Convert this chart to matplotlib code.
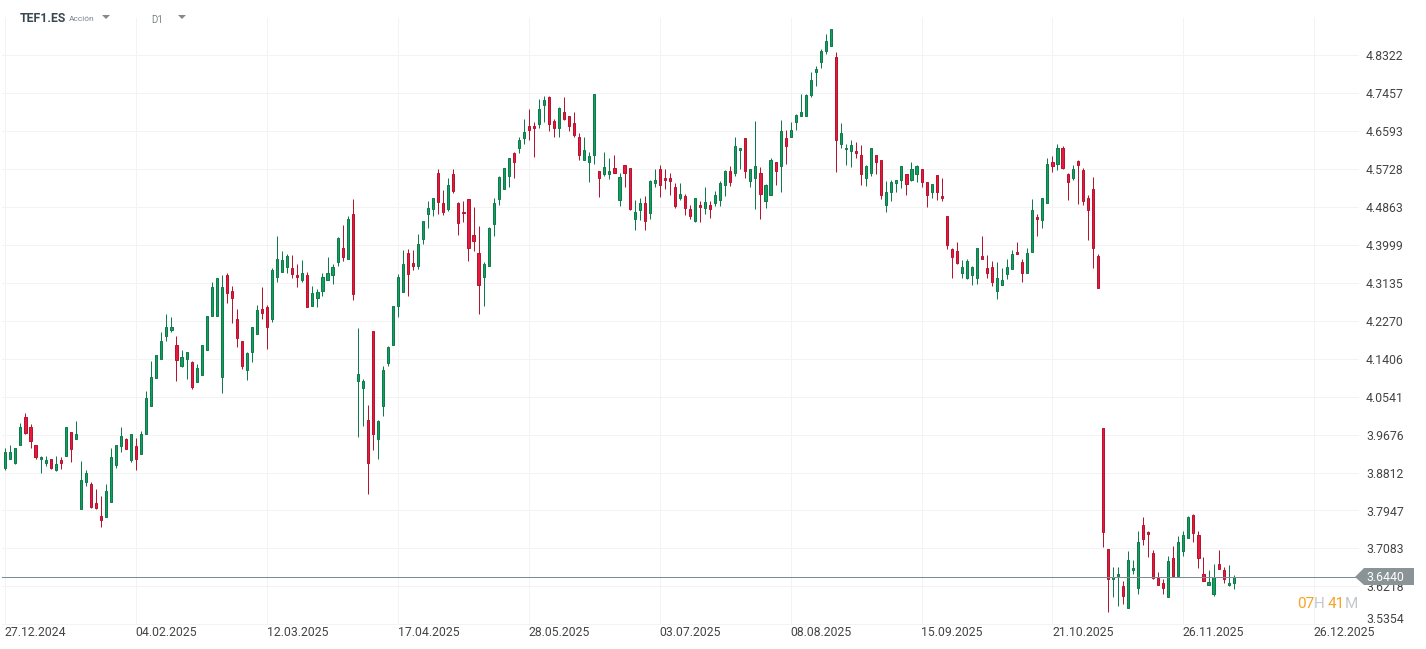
#!/usr/bin/env python3
import matplotlib
matplotlib.use("Agg")
import matplotlib.pyplot as plt
import numpy as np
from matplotlib.patches import Polygon

plt.rcParams['font.family'] = ['Roboto', 'DejaVu Sans']

# Daily candles
opens = [
    3.892, 3.911, 3.904, 3.945, 4.007, 3.984, 3.943, 3.911, 3.904, 3.911,
    3.888, 3.909, 3.919, 3.973, 3.958, 3.799, 3.860, 3.856, 3.811, 3.781,
    3.779, 3.815, 3.899, 3.941, 3.957, 3.910, 3.941, 3.923, 3.968, 4.032,
    4.096, 4.139, 4.192, 4.207, 4.171, 4.125, 4.139, 4.132, 4.087, 4.103,
    4.160, 4.239, 4.239, 4.100, 4.331, 4.296, 4.230, 4.180, 4.114, 4.157,
    4.198, 4.253, 4.258, 4.230, 4.326, 4.338, 4.349, 4.347, 4.331, 4.319,
    4.331, 4.260, 4.278, 4.294, 4.319, 4.331, 4.360, 4.392, 4.369, 4.470,
    4.089, 4.075, 4.002, 4.203, 3.957, 4.032, 4.130, 4.171, 4.260, 4.292,
    4.381, 4.358, 4.351, 4.413, 4.470, 4.481, 4.563, 4.495, 4.481, 4.561,
    4.495, 4.476, 4.504, 4.422, 4.381, 4.328, 4.351, 4.447, 4.504, 4.527,
    4.556, 4.609, 4.620, 4.643, 4.670, 4.670, 4.675, 4.718, 4.736, 4.682,
    4.666, 4.704, 4.693, 4.677, 4.645, 4.593, 4.590, 4.604, 4.568, 4.561,
    4.561, 4.575, 4.502, 4.581, 4.575, 4.460, 4.479, 4.495, 4.472, 4.540,
    4.572, 4.552, 4.552, 4.533, 4.508, 4.511, 4.481, 4.455, 4.490, 4.483,
    4.492, 4.495, 4.502, 4.536, 4.568, 4.563, 4.616, 4.643, 4.545, 4.552,
    4.565, 4.499, 4.513, 4.590, 4.579, 4.643, 4.647, 4.679, 4.693, 4.693,
    4.741, 4.793, 4.816, 4.841, 4.853, 4.828, 4.629, 4.618, 4.613, 4.613,
    4.606, 4.552, 4.565, 4.604, 4.593, 4.490, 4.520, 4.540, 4.547, 4.561,
    4.547, 4.561, 4.572, 4.543, 4.520, 4.559, 4.511, 4.465, 4.390, 4.385,
    4.335, 4.325, 4.331, 4.324, 4.374, 4.347, 4.349, 4.294, 4.308, 4.333,
    4.344, 4.383, 4.360, 4.335, 4.383, 4.463, 4.456, 4.495, 4.588, 4.584,
    4.622, 4.561, 4.552, 4.591, 4.570, 4.508, 4.527, 4.374, 3.982, 3.706,
    3.638, 3.645, 3.622, 3.572, 3.658, 3.619, 3.761, 3.745, 3.697, 3.640,
    3.629, 3.597, 3.686, 3.645, 3.702, 3.733, 3.784, 3.738, 3.649, 3.626,
    3.604, 3.672, 3.658, 3.624, 3.629,
]
closes = [
    3.929, 3.929, 3.936, 3.986, 3.972, 3.954, 3.917, 3.916, 3.909, 3.892,
    3.900, 3.904, 3.984, 3.935, 3.970, 3.865, 3.881, 3.803, 3.801, 3.774,
    3.840, 3.916, 3.945, 3.964, 3.935, 3.970, 3.913, 3.970, 4.050, 4.100,
    4.148, 4.182, 4.212, 4.214, 4.137, 4.144, 4.155, 4.077, 4.119, 4.171,
    4.237, 4.303, 4.324, 4.303, 4.290, 4.280, 4.187, 4.123, 4.153, 4.212,
    4.251, 4.244, 4.214, 4.342, 4.369, 4.365, 4.374, 4.333, 4.326, 4.335,
    4.258, 4.290, 4.292, 4.326, 4.335, 4.349, 4.415, 4.372, 4.458, 4.287,
    4.105, 4.089, 3.902, 3.970, 3.998, 4.114, 4.167, 4.260, 4.328, 4.356,
    4.333, 4.353, 4.401, 4.454, 4.483, 4.506, 4.497, 4.474, 4.536, 4.524,
    4.451, 4.472, 4.394, 4.410, 4.308, 4.356, 4.438, 4.495, 4.554, 4.575,
    4.597, 4.588, 4.638, 4.657, 4.663, 4.666, 4.709, 4.730, 4.675, 4.666,
    4.711, 4.686, 4.670, 4.651, 4.606, 4.616, 4.602, 4.745, 4.552, 4.577,
    4.568, 4.563, 4.554, 4.565, 4.481, 4.476, 4.495, 4.454, 4.545, 4.549,
    4.536, 4.547, 4.545, 4.488, 4.515, 4.483, 4.465, 4.506, 4.486, 4.497,
    4.481, 4.513, 4.540, 4.568, 4.543, 4.625, 4.620, 4.568, 4.574, 4.579,
    4.515, 4.536, 4.593, 4.568, 4.659, 4.625, 4.663, 4.695, 4.704, 4.741,
    4.777, 4.800, 4.841, 4.864, 4.891, 4.638, 4.654, 4.622, 4.627, 4.609,
    4.561, 4.579, 4.620, 4.588, 4.513, 4.520, 4.543, 4.549, 4.579, 4.538,
    4.572, 4.579, 4.543, 4.513, 4.538, 4.520, 4.506, 4.399, 4.372, 4.358,
    4.349, 4.363, 4.349, 4.394, 4.369, 4.335, 4.315, 4.324, 4.321, 4.349,
    4.379, 4.379, 4.335, 4.381, 4.479, 4.458, 4.508, 4.584, 4.579, 4.622,
    4.575, 4.543, 4.572, 4.581, 4.499, 4.479, 4.392, 4.301, 3.745, 3.638,
    3.642, 3.649, 3.599, 3.681, 3.663, 3.724, 3.729, 3.740, 3.640, 3.624,
    3.619, 3.679, 3.645, 3.722, 3.738, 3.779, 3.743, 3.686, 3.635, 3.631,
    3.642, 3.661, 3.638, 3.629, 3.644,
]
highs = [
    3.937, 3.945, 3.936, 3.993, 4.016, 3.991, 3.945, 3.918, 3.920, 3.911,
    3.919, 3.916, 3.984, 3.973, 3.998, 3.907, 3.888, 3.859, 3.843, 3.827,
    3.856, 3.936, 3.945, 3.986, 3.959, 3.970, 3.961, 3.975, 4.068, 4.135,
    4.148, 4.201, 4.242, 4.235, 4.192, 4.160, 4.155, 4.135, 4.128, 4.173,
    4.237, 4.315, 4.324, 4.331, 4.337, 4.306, 4.253, 4.180, 4.157, 4.212,
    4.262, 4.303, 4.262, 4.347, 4.420, 4.385, 4.379, 4.376, 4.356, 4.365,
    4.338, 4.306, 4.299, 4.335, 4.372, 4.356, 4.417, 4.445, 4.467, 4.504,
    4.210, 4.094, 4.034, 4.203, 4.000, 4.123, 4.169, 4.260, 4.333, 4.388,
    4.390, 4.388, 4.424, 4.454, 4.499, 4.508, 4.572, 4.525, 4.552, 4.572,
    4.497, 4.499, 4.504, 4.486, 4.442, 4.362, 4.440, 4.508, 4.556, 4.575,
    4.597, 4.611, 4.645, 4.688, 4.709, 4.679, 4.732, 4.739, 4.739, 4.688,
    4.714, 4.736, 4.693, 4.702, 4.654, 4.645, 4.611, 4.745, 4.568, 4.611,
    4.597, 4.606, 4.563, 4.581, 4.575, 4.502, 4.506, 4.511, 4.547, 4.572,
    4.581, 4.572, 4.565, 4.540, 4.540, 4.517, 4.492, 4.508, 4.499, 4.531,
    4.499, 4.522, 4.545, 4.570, 4.579, 4.647, 4.620, 4.643, 4.574, 4.682,
    4.577, 4.538, 4.597, 4.590, 4.684, 4.661, 4.679, 4.698, 4.745, 4.743,
    4.793, 4.807, 4.846, 4.880, 4.891, 4.839, 4.677, 4.629, 4.638, 4.634,
    4.627, 4.581, 4.620, 4.604, 4.593, 4.545, 4.549, 4.549, 4.579, 4.561,
    4.588, 4.581, 4.572, 4.543, 4.538, 4.559, 4.552, 4.465, 4.392, 4.406,
    4.365, 4.367, 4.351, 4.394, 4.420, 4.376, 4.363, 4.360, 4.347, 4.367,
    4.388, 4.406, 4.367, 4.394, 4.504, 4.470, 4.508, 4.597, 4.602, 4.629,
    4.625, 4.565, 4.581, 4.593, 4.575, 4.513, 4.554, 4.379, 3.982, 3.706,
    3.667, 3.667, 3.635, 3.702, 3.681, 3.749, 3.779, 3.749, 3.704, 3.654,
    3.638, 3.690, 3.713, 3.736, 3.749, 3.781, 3.786, 3.749, 3.688, 3.658,
    3.672, 3.704, 3.667, 3.670, 3.647,
]
lows = [
    3.888, 3.911, 3.901, 3.945, 3.970, 3.938, 3.913, 3.881, 3.897, 3.890,
    3.885, 3.890, 3.919, 3.906, 3.958, 3.799, 3.851, 3.801, 3.799, 3.758,
    3.779, 3.815, 3.892, 3.929, 3.935, 3.906, 3.888, 3.923, 3.968, 4.032,
    4.096, 4.139, 4.182, 4.202, 4.090, 4.122, 4.095, 4.072, 4.087, 4.103,
    4.160, 4.239, 4.239, 4.063, 4.268, 4.223, 4.168, 4.118, 4.091, 4.134,
    4.198, 4.230, 4.163, 4.225, 4.316, 4.338, 4.335, 4.325, 4.305, 4.316,
    4.258, 4.260, 4.259, 4.284, 4.319, 4.312, 4.353, 4.364, 4.369, 4.275,
    3.963, 3.988, 3.833, 3.933, 3.913, 4.011, 4.125, 4.171, 4.236, 4.292,
    4.284, 4.342, 4.344, 4.401, 4.439, 4.467, 4.471, 4.469, 4.478, 4.519,
    4.423, 4.453, 4.364, 4.387, 4.243, 4.261, 4.351, 4.421, 4.492, 4.527,
    4.533, 4.553, 4.610, 4.631, 4.638, 4.601, 4.667, 4.679, 4.660, 4.647,
    4.647, 4.684, 4.660, 4.647, 4.594, 4.593, 4.544, 4.584, 4.510, 4.556,
    4.551, 4.563, 4.489, 4.533, 4.479, 4.433, 4.457, 4.435, 4.460, 4.533,
    4.510, 4.528, 4.514, 4.485, 4.503, 4.469, 4.460, 4.453, 4.453, 4.471,
    4.462, 4.488, 4.489, 4.512, 4.535, 4.556, 4.572, 4.553, 4.533, 4.482,
    4.460, 4.485, 4.513, 4.537, 4.521, 4.585, 4.647, 4.663, 4.693, 4.693,
    4.736, 4.763, 4.804, 4.834, 4.853, 4.567, 4.622, 4.583, 4.578, 4.597,
    4.537, 4.535, 4.558, 4.562, 4.505, 4.476, 4.501, 4.521, 4.530, 4.514,
    4.545, 4.544, 4.533, 4.487, 4.508, 4.503, 4.499, 4.391, 4.325, 4.356,
    4.325, 4.323, 4.309, 4.312, 4.369, 4.325, 4.307, 4.277, 4.308, 4.323,
    4.344, 4.379, 4.316, 4.335, 4.383, 4.421, 4.439, 4.495, 4.567, 4.570,
    4.572, 4.503, 4.547, 4.494, 4.490, 4.412, 4.348, 4.301, 3.712, 3.564,
    3.598, 3.578, 3.582, 3.572, 3.649, 3.604, 3.715, 3.688, 3.638, 3.624,
    3.604, 3.597, 3.645, 3.645, 3.692, 3.733, 3.724, 3.663, 3.635, 3.626,
    3.599, 3.661, 3.629, 3.622, 3.615,
]

price_ticks = [4.8322, 4.7457, 4.6593, 4.5728, 4.4863, 4.3999, 4.3135, 4.2270,
               4.1406, 4.0541, 3.9676, 3.8812, 3.7947, 3.7083, 3.6218, 3.5354]
date_ticks = [0, 26, 52, 78, 104, 130, 156, 182, 208, 234, 260]
date_labels = ['27.12.2024', '04.02.2025', '12.03.2025', '17.04.2025', '28.05.2025',
               '03.07.2025', '08.08.2025', '15.09.2025', '21.10.2025', '26.11.2025',
               '26.12.2025']
last_price = 3.6440

GREEN = '#12a05f'
GREEN_EDGE = '#0f7a4c'
RED = '#e8193c'
RED_EDGE = '#b5152f'
GRID = '#f3f3f3'
ONE_PX = 0.72
LABEL_SIZE = 8.85

W, H = 1426, 649
fig = plt.figure(figsize=(W / 100, H / 100), dpi=100)
ax = fig.add_axes([0, 0, 1, 1])
ax.set_xlim(-1.0586, 282.2)
ax.set_ylim(3.4790, 4.9582)
ax.axis('off')

# pixel helpers for the furniture around the plot
def fx(x): return x / W
def fy(y): return 1 - y / H

# grid
x_left = fx(2)
x_right = fx(1358)
for p in price_ticks:
    ax.axhline(p, xmin=x_left, xmax=x_right, color=GRID, lw=ONE_PX, zorder=1, snap=True)
for d in date_ticks:
    ax.axvline(d, ymin=fy(624), ymax=fy(18), color=GRID, lw=ONE_PX, zorder=1, snap=True)

# candles
idx = np.arange(len(opens))
o, c, h, l = map(np.array, (opens, closes, highs, lows))
up = c >= o
for mask, fill, edge in ((up, GREEN, GREEN_EDGE), (~up, RED, RED_EDGE)):
    ax.vlines(idx[mask], l[mask], h[mask], color=edge, lw=ONE_PX, zorder=3, snap=True)
    ax.bar(idx[mask], np.abs(c - o)[mask], bottom=np.minimum(o, c)[mask], width=0.42,
           color=fill, edgecolor=edge, linewidth=ONE_PX, zorder=4)

# last price line and tag
ax.axhline(last_price, xmin=x_left, xmax=fx(1356), color='#7d8b92', lw=ONE_PX, zorder=5, snap=True)

# axis labels
for p in price_ticks[:-1]:
    ax.annotate(f'{p:.4f}', xy=(fx(1366), p), xycoords=ax.get_yaxis_transform(), xytext=(0, -1.1),
                textcoords='offset points', ha='left', va='center',
                fontsize=LABEL_SIZE, color='#444444', zorder=6)
fig.text(fx(1366), fy(619.5), f'{price_ticks[-1]:.4f}', ha='left', va='center',
         fontsize=LABEL_SIZE, color='#444444')
for d, lab in zip(date_ticks, date_labels):
    ax.annotate(lab, xy=(d, fy(633)), xycoords=ax.get_xaxis_transform(), xytext=(-0.3, 0),
                textcoords='offset points', ha='left', va='center',
                fontsize=LABEL_SIZE, color='#444444', zorder=6)

tag = Polygon([[fx(1355), fy(577)], [fx(1364), fy(568)], [fx(1414), fy(568)],
               [fx(1414), fy(585)], [fx(1364), fy(585)]],
              closed=True, transform=fig.transFigure, facecolor='#8a9497', edgecolor='none', zorder=7)
ax.add_patch(tag)
ax.text(fx(1366), fy(577.5), f'{last_price:.4f}', transform=fig.transFigure, ha='left', va='center',
        fontsize=LABEL_SIZE, color='white', zorder=8)

# countdown
for xp, s, col in ((1297, '07', '#f7a325'), (1314, 'H', '#c5c9cc'), (1328, '41', '#f7a325'), (1345, 'M', '#c5c9cc')):
    fig.text(fx(xp), fy(604), s, ha='left', va='center', fontsize=11, color=col)

# header
fig.text(fx(20), fy(18.5), 'TEF1.ES', ha='left', va='center', fontsize=8.8, fontweight='bold', color='#37474f')
fig.text(fx(69), fy(19), 'Acción', ha='left', va='center', fontsize=6, color='#78848a')
fig.text(fx(151), fy(20), 'D1', ha='left', va='center', fontsize=7, color='#78848a')
for xc in (106, 182):
    ax.add_patch(Polygon([[fx(xc - 4), fy(15)], [fx(xc + 4), fy(15)], [fx(xc), fy(19)]], closed=True,
                         transform=fig.transFigure, facecolor='#7f8a90', edgecolor='none'))

fig.savefig('out.png', dpi=100, facecolor='white')
